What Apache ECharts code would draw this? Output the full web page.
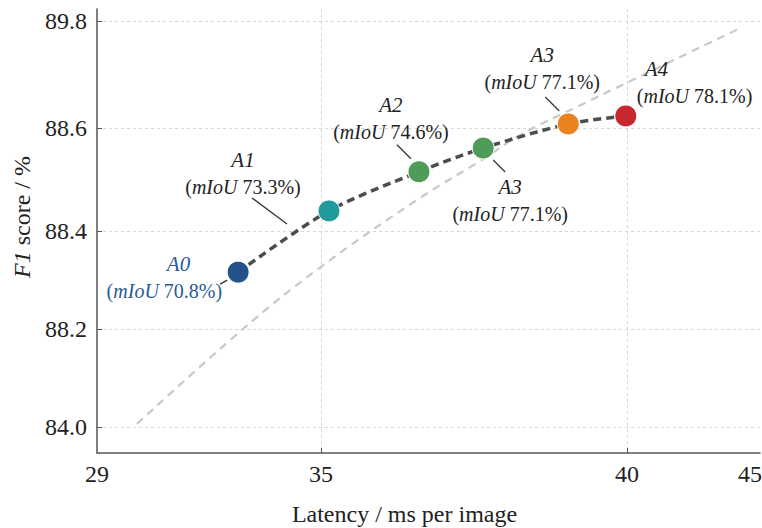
<!DOCTYPE html>
<html>
<head>
<meta charset="utf-8">
<script src="https://cdn.jsdelivr.net/npm/echarts@6/dist/echarts.min.js"></script>
<style>html,body{margin:0;padding:0;background:#fff}#main{width:762px;height:528px}</style>
</head>
<body>
<div id="main"></div>
<script>
// model variants
const names = ['A0', 'A1', 'A2', 'A3', 'A3', 'A4']
const mIoU = [70.8, 73.3, 74.6, 77.1, 77.1, 78.1]
const latency = [32.78, 35.13, 36.6, 37.65, 39.04, 39.98]
const f1 = [88.316, 88.439, 88.515, 88.561, 88.645, 88.735]
// grey reference trend
const trendLatency = [30.07, 32.91, 35.0, 36.64, 37.63, 38.25, 39.18, 40.24, 44.67]
const trendF1 = [84.13, 88.2, 88.327, 88.466, 88.538, 88.586, 88.836, 89.14, 89.73]
// axis ticks (both axes are broken / not to scale)
const xTicks = [29, 35, 40, 45]
const yTicks = [84.0, 88.2, 88.4, 88.6, 89.8]

// where each tick sits along its axis, 0..1
const xTickPos = [0, 0.3379, 0.7994, 0.985]
const yTickPos = [0.0586, 0.2793, 0.5, 0.732, 0.973]

const FONT = '"Liberation Serif", "DejaVu Serif", serif'
const pointColors = ['#23518a', '#1f9b9d', '#4e9c57', '#4e9c57', '#e8831f', '#c8282d']
const labelAlign = ['right', 'center', 'center', 'center', 'center', 'left']
const labelOffset = [[-16, 5], [-86, -37], [-28, -53], [27, 52], [-26, -55], [11, -33]]
const namePad = [[0, 32, 0, 0], 0, 0, 0, 0, [0, 0, 0, 8]]
// leader line from label to point: dx1, dy1, dx2, dy2
const leaders = [[-18, 12, -11, 8], [-77, -13, -42, 13], [-22, -27, -8, -13], [10, 12, 22, 24], [-23, -27, -9, -13], null]

// piecewise linear mapping value -> axis position
function toAxis(v, ticks, pos) {
    let i = 0
    while (i < ticks.length - 2 && v > ticks[i + 1]) i++
    return pos[i] + (v - ticks[i]) / (ticks[i + 1] - ticks[i]) * (pos[i + 1] - pos[i])
}
function tickLabel(v, ticks, pos, digits) {
    const i = pos.findIndex((p) => Math.abs(p - v) < 1e-6)
    return i < 0 ? '' : ticks[i].toFixed(digits)
}

const pts = latency.map((x, i) => [toAxis(x, xTicks, xTickPos), toAxis(f1[i], yTicks, yTickPos)])
const trend = trendLatency.map((x, i) => [toAxis(x, xTicks, xTickPos), toAxis(trendF1[i], yTicks, yTickPos)])

const chart = echarts.init(document.getElementById('main'), null, { renderer: 'svg' })
const gridLine = { show: true, lineStyle: { color: '#d6d6d6', type: [3, 3], width: 1 } }

const option = {
    animation: false,
    backgroundColor: '#fff',
    textStyle: { fontFamily: FONT },
    grid: { left: 97, right: 2, top: 9, bottom: 75, outerBoundsMode: 'none' },
    xAxis: {
        type: 'value',
        min: 0,
        max: 1,
        name: 'Latency / ms per image',
        nameLocation: 'middle',
        nameGap: 49,
        nameTextStyle: { fontSize: 24, color: '#222', fontFamily: FONT, padding: [0, 48, 0, 0] },
        axisLine: { lineStyle: { color: '#555', width: 1.5 } },
        axisTick: { inside: true, length: 5, customValues: xTickPos.slice(1, 3), lineStyle: { color: '#555' } },
        axisLabel: {
            customValues: xTickPos,
            formatter: (v) => tickLabel(v, xTicks, xTickPos, 0),
            fontSize: 24, color: '#222', fontFamily: FONT, margin: 9
        },
        splitLine: gridLine
    },
    yAxis: {
        type: 'value',
        min: 0,
        max: 1,
        name: '{i|F1} score / %',
        nameLocation: 'middle',
        nameRotate: 90,
        nameGap: 62,
        nameTextStyle: {
            fontSize: 24, color: '#222', fontFamily: FONT, padding: [0, 0, 0, 28],
            rich: { i: { fontSize: 24, fontStyle: 'italic', fontFamily: FONT, color: '#222' } }
        },
        axisLine: { show: true, lineStyle: { color: '#555', width: 1.5 } },
        axisTick: { show: true, inside: true, length: 5, customValues: yTickPos, lineStyle: { color: '#555' } },
        axisLabel: {
            customValues: yTickPos,
            formatter: (v) => tickLabel(v, yTicks, yTickPos, 1),
            fontSize: 24, color: '#222', fontFamily: FONT, margin: 10
        },
        splitLine: gridLine
    },
    series: [
        {
            name: 'trend',
            type: 'line',
            data: trend,
            smooth: 0.4,
            showSymbol: false,
            silent: true,
            lineStyle: { color: '#c8c8c8', width: 2.2, type: [8, 6] },
            z: 1
        },
        {
            name: 'path',
            type: 'line',
            data: pts,
            smooth: 0.3,
            showSymbol: false,
            silent: true,
            lineStyle: { color: '#4d4d4d', width: 3.5, type: [8, 5] },
            z: 2
        },
        {
            name: 'leaders',
            type: 'custom',
            data: pts,
            silent: true,
            renderItem: function (params, api) {
                const seg = leaders[params.dataIndex]
                if (!seg) return
                const c = api.coord([api.value(0), api.value(1)])
                return {
                    type: 'line',
                    shape: { x1: c[0] + seg[0], y1: c[1] + seg[1], x2: c[0] + seg[2], y2: c[1] + seg[3] },
                    style: { stroke: '#333', lineWidth: 1.3 }
                }
            },
            z: 3
        },
        {
            name: 'models',
            type: 'scatter',
            symbolSize: 22,
            z: 4,
            data: pts.map((p, i) => ({
                value: p,
                itemStyle: { color: pointColors[i], opacity: 1, borderColor: '#fff', borderWidth: 1 },
                label: {
                    show: true,
                    position: 'inside',
                    align: labelAlign[i],
                    verticalAlign: 'middle',
                    offset: labelOffset[i],
                    color: i === 0 ? '#2b5a94' : '#222',
                    formatter: '{n|' + names[i] + '}\n{p|(}{i|mIoU}{p| ' + mIoU[i].toFixed(1) + '%)}',
                    rich: {
                        n: { fontSize: 21, fontStyle: 'italic', fontFamily: FONT, lineHeight: 27, padding: namePad[i] },
                        p: { fontSize: 20, fontFamily: FONT, lineHeight: 27 },
                        i: { fontSize: 20, fontStyle: 'italic', fontFamily: FONT, lineHeight: 27 }
                    }
                }
            }))
        }
    ]
}
chart.setOption(option)
</script>
</body>
</html>
